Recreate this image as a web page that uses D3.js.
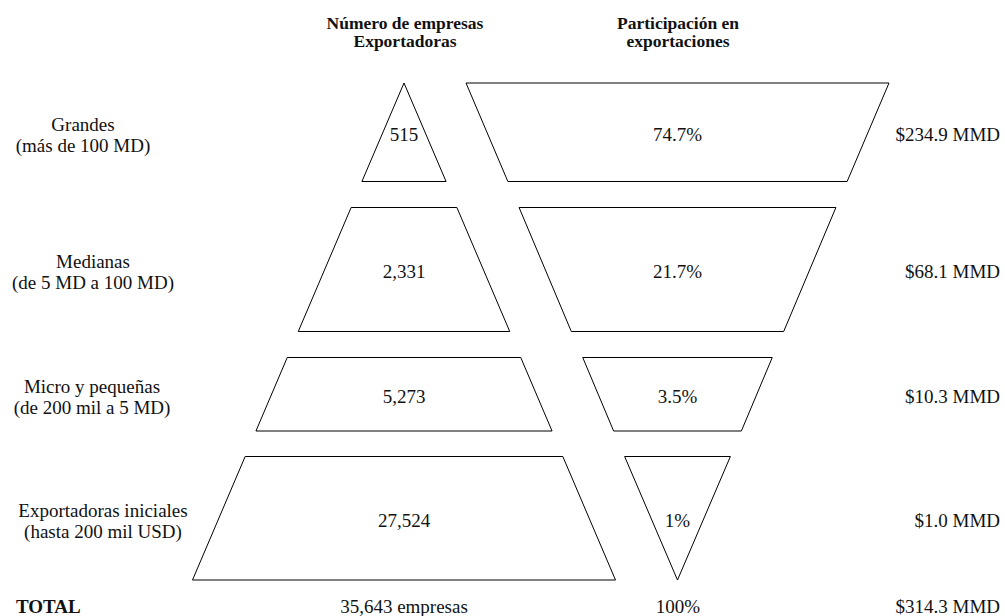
<!DOCTYPE html>
<html lang="es">
<head>
<meta charset="utf-8">
<title>Empresas exportadoras por tamaño</title>
<script src="https://cdn.jsdelivr.net/npm/d3@7"></script>
<style>
  html, body { margin: 0; padding: 0; background: #fff; }
  svg { display: block; }
  text { font-family: "Liberation Serif", "Times New Roman", Times, serif; fill: #111; }
</style>
</head>
<body>
<svg id="chart" width="1005" height="616"></svg>
<script>
// ---- Data ----
const categories = ["Grandes", "Medianas", "Micro y pequeñas", "Exportadoras iniciales"];
const ranges = ["(más de 100 MD)", "(de 5 MD a 100 MD)", "(de 200 mil a 5 MD)", "(hasta 200 mil USD)"];
const firms = [515, 2331, 5273, 27524];
const exportShare = [74.7, 21.7, 3.5, 1];
const exportValue = [234.9, 68.1, 10.3, 1.0];
const totalFirms = 35643;
const totalShare = 100;
const totalValue = 314.3;
const headers = [["Número de empresas", "Exportadoras"], ["Participación en", "exportaciones"]];

// ---- Layout ----
// stylised funnel outlines: [top width, bottom width] relative to the widest edge
const firmShape = [[0, 0.199], [0.25, 0.5], [0.552, 0.7], [0.751, 1]];
const shareShape = [[1, 0.802], [0.749, 0.502], [0.448, 0.302], [0.25, 0]];
const rowBand = [[83, 181.5], [207.5, 331.5], [357.5, 431], [456.5, 580]];
const labelCenter = [83, 93, 92, 103];
const maxWidth = 423;

const svg = d3.select("#chart");

const firmX = d3.scaleLinear().domain([-0.5, 0.5]).range([404 - maxWidth / 2, 404 + maxWidth / 2]);
const shareX = d3.scaleLinear().domain([-0.5, 0.5]).range([677.5 - maxWidth / 2, 677.5 + maxWidth / 2]);

const fmtFirms = d3.format(",");
const fmtShare = v => (Number.isInteger(v) ? d3.format("d")(v) : d3.format(".1f")(v)) + "%";
const fmtValue = v => "$" + d3.format(".1f")(v) + " MMD";

function outline(xs, widths, band) {
  const [tw, bw] = widths, [y0, y1] = band;
  return [
    [xs(-tw / 2), y0], [xs(tw / 2), y0],
    [xs(bw / 2), y1], [xs(-bw / 2), y1]
  ];
}
const line = d3.line().curve(d3.curveLinearClosed);

const rows = categories.map((c, i) => ({
  cat: c, range: ranges[i], firms: firms[i], share: exportShare[i], value: exportValue[i],
  band: rowBand[i], mid: (rowBand[i][0] + rowBand[i][1]) / 2, i
}));

// column headers
headers.forEach((lines, k) => {
  const cx = k === 0 ? 405 : 678;
  const t = svg.append("text")
    .attr("x", cx).attr("y", 29)
    .attr("text-anchor", "middle")
    .style("font-size", "17.5px").style("font-weight", "bold");
  lines.forEach((s, j) => t.append("tspan").attr("x", cx).attr("dy", j ? 18 : 0).text(s));
});

const g = svg.selectAll("g.row").data(rows).join("g").attr("class", "row");

// firm-count funnel
g.append("path")
  .attr("d", d => line(outline(firmX, firmShape[d.i], d.band)))
  .attr("fill", "none").attr("stroke", "#000").attr("stroke-width", 1);

// export-share funnel
g.append("path")
  .attr("d", d => line(outline(shareX, shareShape[d.i], d.band)))
  .attr("fill", "none").attr("stroke", "#000").attr("stroke-width", 1);

g.append("text")
  .attr("x", 404).attr("y", d => d.mid + 8.5)
  .attr("text-anchor", "middle").style("font-size", "19px")
  .text(d => fmtFirms(d.firms));

g.append("text")
  .attr("x", 677.5).attr("y", d => d.mid + 8.5)
  .attr("text-anchor", "middle").style("font-size", "19px")
  .text(d => fmtShare(d.share));

g.append("text")
  .attr("x", 1000).attr("y", d => d.mid + 8.5)
  .attr("text-anchor", "end").style("font-size", "19px")
  .text(d => fmtValue(d.value));

// category labels
const lab = g.append("text")
  .attr("text-anchor", "middle").style("font-size", "19px");
lab.append("tspan").attr("x", d => labelCenter[d.i]).attr("y", d => d.mid - 1.5).text(d => d.cat);
lab.append("tspan").attr("x", d => labelCenter[d.i]).attr("y", d => d.mid + 19.5).text(d => d.range);

// totals row
const yTot = 613;
svg.append("text").attr("x", 16).attr("y", yTot)
  .style("font-size", "19px").style("font-weight", "bold").text("TOTAL");
svg.append("text").attr("x", 404).attr("y", yTot).attr("text-anchor", "middle")
  .style("font-size", "19px").text(fmtFirms(totalFirms) + " empresas");
svg.append("text").attr("x", 678).attr("y", yTot).attr("text-anchor", "middle")
  .style("font-size", "19px").text(fmtShare(totalShare));
svg.append("text").attr("x", 1000).attr("y", yTot).attr("text-anchor", "end")
  .style("font-size", "19px").text(fmtValue(totalValue));
</script>
</body>
</html>
